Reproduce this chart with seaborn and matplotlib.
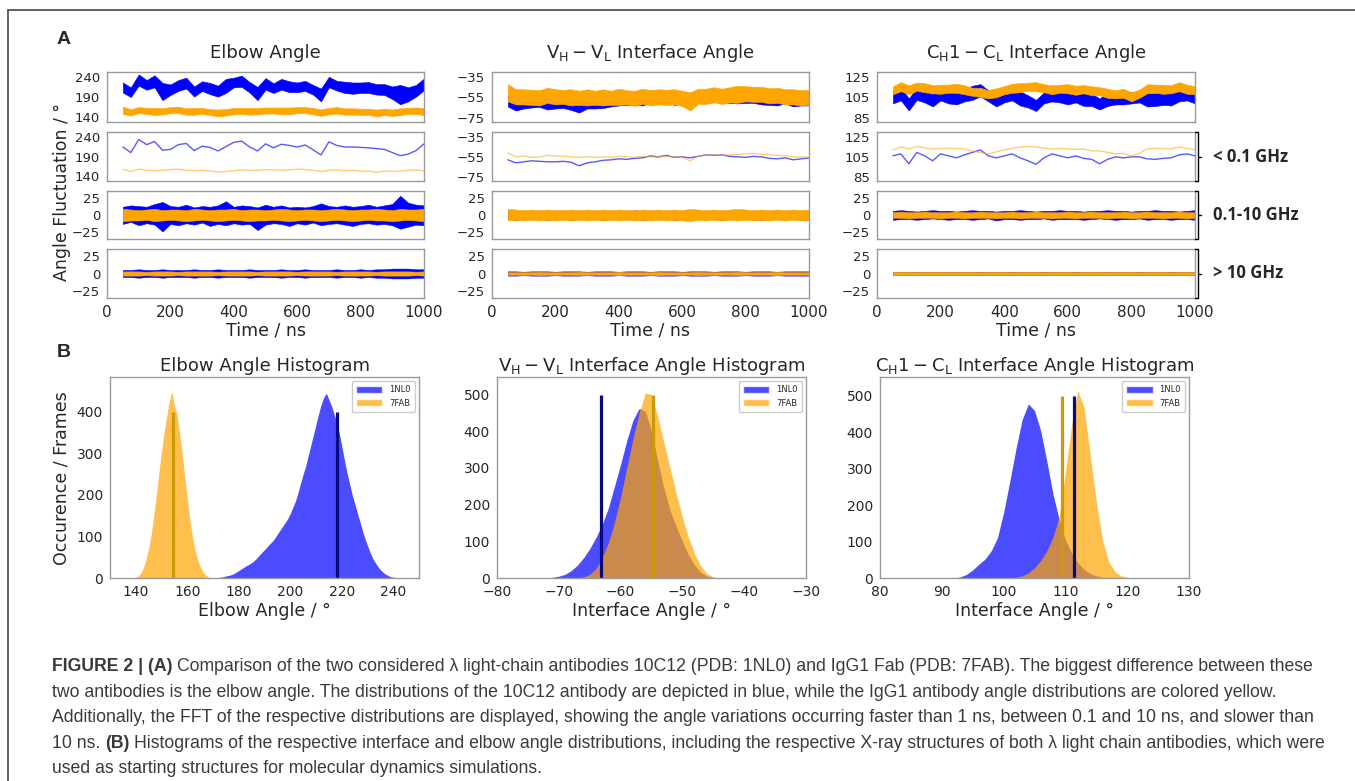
"""
Angle fluctuations (FFT split) and angle histograms for 1NL0 vs 7FAB
"""

import numpy as np
import seaborn as sns
import matplotlib

matplotlib.use("Agg")
import matplotlib.pyplot as plt
from matplotlib.lines import Line2D
from matplotlib.patches import Patch

W, H = 1355, 781

# ---- time series (values read every 25 ns from 50 to 1000 ns) ----
time_ns = list(range(50, 1001, 25))

# slow part (< 0.1 GHz)
elbow_blue_slow = [214, 200, 233, 220, 228, 206, 208, 220, 223, 205, 216, 213, 204,
                   215, 226, 229, 214, 204, 222, 212, 221, 218, 214, 219, 207, 194,
                   227, 218, 214, 214, 213, 212, 210, 208, 200, 192, 196, 205, 222]
elbow_orange_slow = [157, 152, 158, 155, 154, 155, 157, 158, 155, 154, 155, 153, 151,
                     152, 154, 156, 155, 155, 157, 156, 155, 156, 158, 157, 155, 152,
                     155, 156, 154, 155, 153, 153, 150, 153, 152, 153, 155, 156, 154]
vh_blue_slow = [-58, -61, -60, -59, -59.5, -60, -60, -59.5, -60.5, -64, -61, -60, -58.5,
                -58, -57, -57.5, -56.5, -56, -54, -55, -53.5, -55.5, -55, -56, -54.5, -53,
                -53.5, -53, -54.5, -55, -55.5, -54.5, -55, -56.5, -57, -56, -58, -57, -56]
vh_orange_slow = [-51, -55, -54, -55.5, -55, -53.5, -54, -54.5, -55, -55.5, -55, -55.5, -55,
                  -55.5, -54.5, -55, -55.5, -54.5, -55, -55, -54.5, -55, -55.5, -59, -54.5,
                  -53.5, -53, -53.5, -53, -52.5, -52, -51.5, -52.5, -53, -53.5, -54, -55, -55,
                  -55.5]
ch_blue_slow = [106, 108, 98, 109.5, 106, 101, 108, 106, 104, 107, 109.5, 112, 106, 104,
                106, 108, 104, 101, 97.5, 104, 108, 106, 104, 106, 103.5, 102.5, 98, 102.5,
                105, 104, 105, 105, 103, 102.5, 103.5, 104, 107, 108, 106]
ch_orange_slow = [112, 115, 113, 115.5, 114, 113, 113.5, 113.5, 113.5, 113, 110.5, 109.5,
                  108, 110, 112, 113.5, 115, 115.5, 115, 114, 113, 113.5, 113, 112.5, 113,
                  111, 111, 109.5, 108, 108.5, 106, 108.5, 113, 113.5, 113.5, 113, 115,
                  113.5, 112]

# 0.1-10 GHz band (upper / lower envelope)
elbow_blue_mid_hi = [12, 14, 13, 12, 16, 19, 13, 12, 15, 11, 13, 12, 14, 20, 12, 14, 13,
                     11, 15, 12, 14, 11, 12, 11, 13, 17, 13, 12, 14, 12, 13, 15, 12, 14,
                     16, 28, 18, 15, 14]
elbow_blue_mid_lo = [-13, -10, -15, -12, -14, -24, -13, -15, -12, -14, -11, -16, -13, -15,
                     -12, -14, -13, -22, -14, -12, -13, -16, -12, -14, -11, -15, -13, -12,
                     -14, -16, -13, -12, -14, -13, -15, -20, -17, -14, -15]
elbow_orange_mid_hi = [9, 8, 7, 8, 9, 7, 8, 8, 7, 9, 8, 7, 8, 8, 9, 7, 8, 8, 7, 8, 9, 8,
                       7, 8, 8, 7, 8, 9, 8, 7, 8, 8, 9, 8, 7, 9, 8, 8, 9]
elbow_orange_mid_lo = [-9, -8, -8, -7, -9, -8, -7, -8, -9, -8, -7, -8, -9, -8, -7, -8, -9,
                       -8, -8, -7, -8, -9, -8, -7, -8, -9, -8, -7, -8, -9, -8, -7, -8, -8,
                       -9, -8, -7, -8, -9]
vh_blue_mid_hi = [5, 6, 5, 5, 6, 5, 5, 6, 5, 5, 6, 5, 5, 5, 6, 5, 7, 5, 6, 5, 5, 6, 5, 5,
                  6, 5, 5, 6, 5, 5, 5, 6, 5, 5, 6, 5, 5, 6, 5]
vh_blue_mid_lo = [-6, -7, -6, -6, -5, -7, -6, -6, -7, -6, -5, -6, -7, -6, -6, -5, -6, -7,
                  -6, -6, -5, -7, -6, -6, -6, -5, -6, -7, -6, -6, -5, -6, -7, -6, -6, -5,
                  -6, -6, -7]
vh_orange_mid_hi = [9, 8, 7, 8, 7, 8, 7, 7, 8, 7, 8, 7, 8, 7, 8, 7, 7, 8, 7, 8, 7, 8, 7,
                    9, 8, 7, 8, 7, 8, 9, 8, 7, 8, 7, 8, 7, 8, 7, 8]
vh_orange_mid_lo = [-8, -7, -8, -7, -8, -7, -8, -7, -8, -7, -8, -7, -8, -7, -8, -7, -8,
                    -7, -8, -7, -8, -7, -8, -9, -7, -8, -7, -8, -7, -8, -7, -8, -7, -8,
                    -7, -8, -7, -8, -7]
ch_blue_mid_hi = [6, 7, 6, 5, 6, 7, 6, 6, 5, 6, 7, 6, 6, 5, 6, 6, 7, 6, 5, 6, 6, 7, 6, 6,
                  5, 6, 6, 7, 6, 6, 5, 6, 6, 7, 6, 6, 5, 6, 7]
ch_blue_mid_lo = [-7, -6, -6, -7, -6, -5, -6, -7, -6, -6, -7, -6, -5, -8, -6, -6, -7, -6,
                  -6, -5, -7, -6, -6, -6, -7, -6, -5, -6, -7, -6, -6, -5, -7, -6, -6, -7,
                  -6, -6, -7]
ch_orange_mid_hi = [4, 5, 4, 4, 5, 4, 4, 4, 5, 4, 4, 5, 4, 4, 4, 5, 4, 4, 5, 4, 4, 4, 5,
                    4, 4, 5, 4, 4, 4, 5, 4, 4, 5, 4, 4, 4, 5, 4, 4]
ch_orange_mid_lo = [-4, -4, -5, -4, -4, -4, -5, -4, -4, -5, -4, -4, -4, -5, -4, -4, -5,
                    -4, -4, -4, -5, -4, -4, -5, -4, -4, -4, -5, -4, -4, -5, -4, -4, -4, -5,
                    -4, -4, -5, -4]

# > 10 GHz band (half width)
elbow_blue_fast = [5, 5, 6, 5, 5, 6, 5, 5, 5, 6, 5, 5, 6, 5, 5, 5, 6, 5, 5, 5, 6, 5, 5,
                   6, 5, 5, 5, 6, 5, 5, 6, 5, 6, 6, 7, 7, 7, 6, 6]
elbow_orange_fast = [3, 3, 3, 2.5, 3, 3, 3, 2.5, 3, 3, 3, 3, 2.5, 3, 3, 3, 3, 2.5, 3, 3,
                     3, 3, 2.5, 3, 3, 3, 3, 2.5, 3, 3, 3, 3, 2.5, 3, 3, 3, 3, 2.5, 3]
vh_blue_fast = [3, 3, 2.5, 3, 3, 3, 2.5, 3, 3, 3, 2.5, 3, 3, 3, 2.5, 3, 3, 3, 2.5, 3, 3,
                3, 2.5, 3, 3, 3, 2.5, 3, 3, 3, 2.5, 3, 3, 3, 2.5, 3, 3, 3, 3]
vh_orange_fast = [2, 2, 2, 2, 2.5, 2, 2, 2, 2, 2.5, 2, 2, 2, 2, 2.5, 2, 2, 2, 2, 2.5, 2,
                  2, 2, 2, 2.5, 2, 2, 2, 2, 2.5, 2, 2, 2, 2, 2.5, 2, 2, 2, 2]
ch_blue_fast = [2, 2, 2, 2.5, 2, 2, 2, 2.5, 2, 2, 2, 2.5, 2, 2, 2, 2.5, 2, 2, 2, 2.5, 2,
                2, 2, 2.5, 2, 2, 2, 2.5, 2, 2, 2, 2.5, 2, 2, 2, 2.5, 2, 2, 2]
ch_orange_fast = [1.5, 1.5, 1.5, 1.5, 1.5, 1.5, 1.5, 1.5, 1.5, 1.5, 1.5, 1.5, 1.5, 1.5,
                  1.5, 1.5, 1.5, 1.5, 1.5, 1.5, 1.5, 1.5, 1.5, 1.5, 1.5, 1.5, 1.5, 1.5,
                  1.5, 1.5, 1.5, 1.5, 1.5, 1.5, 1.5, 1.5, 1.5, 1.5, 1.5]

# ---- histograms (frames per 1 degree bin) ----
elbow_blue_deg = list(range(172, 243))
elbow_blue_count = [1, 2, 3, 5, 6, 8, 10, 14, 18, 22, 26, 30, 33, 37, 42, 48, 55, 62, 68,
                    75, 82, 88, 96, 106, 115, 124, 133, 143, 155, 170, 185, 205, 228,
                    250, 270, 295, 320, 345, 370, 395, 418, 435, 445, 430, 415, 395, 375,
                    350, 318, 285, 255, 228, 202, 180, 158, 137, 115, 95, 78, 62, 48, 37,
                    28, 20, 14, 9, 6, 3, 2, 1, 0]
elbow_orange_deg = list(range(139, 170))
elbow_orange_count = [0, 2, 5, 12, 25, 45, 72, 105, 150, 200, 255, 305, 350, 390, 425,
                      450, 415, 395, 350, 300, 245, 190, 140, 100, 68, 45, 28, 16, 8, 3, 0]
vh_blue_deg = list(range(-72, -44))
vh_blue_count = [0, 2, 5, 10, 20, 35, 55, 80, 110, 145, 190, 250, 310, 375, 430, 462,
                 455, 400, 320, 245, 185, 140, 100, 62, 35, 15, 5, 1]
vh_orange_deg = list(range(-67, -43))
vh_orange_count = [0, 3, 10, 25, 55, 95, 150, 220, 300, 380, 450, 505, 500, 440, 370,
                   300, 230, 165, 110, 65, 32, 12, 3, 0]
ch_blue_deg = list(range(92, 118))
ch_blue_count = [0, 3, 10, 22, 38, 52, 75, 110, 180, 265, 355, 435, 478, 460, 405, 320,
                 230, 160, 105, 68, 42, 24, 12, 6, 2, 0]
ch_orange_deg = list(range(101, 122))
ch_orange_count = [0, 2, 6, 14, 28, 48, 75, 112, 170, 290, 420, 515, 470, 340, 210, 105,
                   45, 18, 6, 2, 0]

# X-ray structure angles (1NL0, 7FAB)
elbow_xray = [218, 154.5]
vh_xray = [-63.1, -54.7]
ch_xray = [111.4, 109.5]

freq_labels = ["< 0.1 GHz", "0.1-10 GHz", "> 10 GHz"]

caption_lines = [
    [("FIGURE 2 | (A)", "bold"),
     ("Comparison of the two considered λ light-chain antibodies 10C12 (PDB: 1NL0) and "
      "IgG1 Fab (PDB: 7FAB). The biggest difference between these", "normal")],
    [("two antibodies is the elbow angle. The distributions of the 10C12 antibody are "
      "depicted in blue, while the IgG1 antibody angle distributions are colored yellow.",
      "normal")],
    [("Additionally, the FFT of the respective distributions are displayed, showing the "
      "angle variations occurring faster than 1 ns, between 0.1 and 10 ns, and slower than",
      "normal")],
    [("10 ns.", "normal"), ("(B)", "bold"),
     ("Histograms of the respective interface and elbow angle distributions, including "
      "the respective X-ray structures of both λ light chain antibodies, which were",
      "normal")],
    [("used as starting structures for molecular dynamics simulations.", "normal")],
]

BLUE = "blue"
ORANGE = "orange"
SPINE = "#9a9a9a"


def box(x0, y0, x1, y1):
    return [x0 / W, 1 - y1 / H, (x1 - x0) / W, (y1 - y0) / H]


def style_ax(ax, size):
    for s in ax.spines.values():
        s.set_color(SPINE)
        s.set_linewidth(1.0)
    ax.tick_params(length=3, width=0.8, color="#444444", labelsize=size, pad=2)


def draw_traces(fig, x0, x1, title, ylim, yticks, blue, orange):
    rows = [(72, 122), (132, 181), (191, 239), (249, 298)]
    t = np.array(time_ns)
    axes = []
    for i, (y0, y1) in enumerate(rows):
        ax = fig.add_axes(box(x0, y0, x1, y1))
        for d, c in [(blue, BLUE), (orange, ORANGE)]:
            slow = np.array(d["slow"])
            hi = np.array(d["hi"])
            lo = np.array(d["lo"])
            fast = np.array(d["fast"])
            if i == 0:
                ax.fill_between(t, slow + lo, slow + hi, color=c, lw=0.4)
            elif i == 1:
                sns.lineplot(x=t, y=slow, color=c, lw=1.0,
                             alpha=0.65 if c == BLUE else 0.55, ax=ax)
            elif i == 2:
                ax.fill_between(t, lo, hi, color=c, lw=0.4)
            else:
                ax.fill_between(t, -fast, fast, color=c, lw=0.4)
        ax.set_xlim(0, 1000)
        ax.set_xticks(range(0, 1001, 200))
        if i < 2:
            ax.set_ylim(*ylim)
            ax.set_yticks(yticks)
        else:
            ax.set_ylim(-35, 35)
            ax.set_yticks([25, 0, -25])
        style_ax(ax, 9.5)
        if i < 3:
            ax.tick_params(labelbottom=False)
        else:
            ax.tick_params(axis="x", labelsize=11)
            ax.set_xlabel("Time / ns", fontsize=12.5, labelpad=1)
        axes.append(ax)
    axes[0].set_title(title, fontsize=13, pad=10)
    return axes


def draw_hist(fig, x0, x1, blue_x, blue_y, orange_x, orange_y, xray, vheight,
              xlim, xticks, ylim, yticks, xlabel, title):
    ax = fig.add_axes(box(x0, 377, x1, 578))
    for xs, ys, c in [(blue_x, blue_y, BLUE), (orange_x, orange_y, ORANGE)]:
        edges = [v - 0.5 for v in xs] + [xs[-1] + 0.5]
        sns.histplot(x=xs, weights=ys, bins=edges, element="poly", fill=True,
                     color=c, alpha=0.7, linewidth=0, ax=ax)
    ax.vlines(xray[0], 0, vheight, color="#0a0a80", lw=2.3)
    ax.vlines(xray[1], 0, vheight, color="#cc9a06", lw=2.3)
    ax.set_xlim(*xlim)
    ax.set_xticks(xticks)
    ax.set_ylim(*ylim)
    ax.set_yticks(yticks)
    ax.set_ylabel("")
    ax.set_xlabel(xlabel, fontsize=12.5, labelpad=2)
    ax.set_title(title, fontsize=13, pad=4)
    style_ax(ax, 10)
    handles = [Patch(facecolor=BLUE, alpha=0.7, label="1NL0"),
               Patch(facecolor=ORANGE, alpha=0.7, label="7FAB")]
    ax.legend(handles=handles, loc="upper right", fontsize=6, handlelength=3.2,
              handleheight=0.9, borderpad=0.5, labelspacing=0.5, framealpha=1,
              edgecolor="#cccccc")
    return ax


def draw_caption(fig):
    r = fig.canvas.get_renderer()
    kw = dict(family="Liberation Sans", size=12.7, color="#3a3a3a", va="baseline")
    probe = fig.text(0, 0, "a a", **kw)
    probe2 = fig.text(0, 0, "aa", **kw)
    space = probe.get_window_extent(r).width - probe2.get_window_extent(r).width
    probe.remove()
    probe2.remove()
    baselines = [671, 697, 722, 748, 773]
    for segs, yb in zip(caption_lines, baselines):
        x = 52
        for text, weight in segs:
            t = fig.text(x / W, 1 - yb / H, text, weight=weight, **kw)
            x = t.get_window_extent(r).x1 + space


def main():
    sns.set_style("white")
    plt.rcParams["font.family"] = ["DejaVu Sans"]
    plt.rcParams["mathtext.fontset"] = "dejavusans"

    fig = plt.figure(figsize=(W / 100, H / 100), dpi=100)

    draw_traces(fig, 107, 424, "Elbow Angle", (128, 252), [240, 190, 140],
                dict(slow=elbow_blue_slow, hi=elbow_blue_mid_hi, lo=elbow_blue_mid_lo,
                     fast=elbow_blue_fast),
                dict(slow=elbow_orange_slow, hi=elbow_orange_mid_hi,
                     lo=elbow_orange_mid_lo, fast=elbow_orange_fast))
    draw_traces(fig, 492, 809, r"$\mathrm{V_H - V_L}$ Interface Angle", (-79.3, -30),
                [-35, -55, -75],
                dict(slow=vh_blue_slow, hi=vh_blue_mid_hi, lo=vh_blue_mid_lo,
                     fast=vh_blue_fast),
                dict(slow=vh_orange_slow, hi=vh_orange_mid_hi, lo=vh_orange_mid_lo,
                     fast=vh_orange_fast))
    draw_traces(fig, 877, 1195, r"$\mathrm{C_H1 - C_L}$ Interface Angle", (80.7, 130),
                [125, 105, 85],
                dict(slow=ch_blue_slow, hi=ch_blue_mid_hi, lo=ch_blue_mid_lo,
                     fast=ch_blue_fast),
                dict(slow=ch_orange_slow, hi=ch_orange_mid_hi, lo=ch_orange_mid_lo,
                     fast=ch_orange_fast))

    draw_hist(fig, 110, 419, elbow_blue_deg, elbow_blue_count, elbow_orange_deg,
              elbow_orange_count, elbow_xray, 400, (130, 250), range(140, 241, 20),
              (0, 484), range(0, 401, 100), "Elbow Angle / °", "Elbow Angle Histogram")
    draw_hist(fig, 497, 806, vh_blue_deg, vh_blue_count, vh_orange_deg, vh_orange_count,
              vh_xray, 500, (-80, -30), range(-80, -29, 10), (0, 548),
              range(0, 501, 100), "Interface Angle / °",
              r"$\mathrm{V_H - V_L}$ Interface Angle Histogram")
    draw_hist(fig, 880, 1189, ch_blue_deg, ch_blue_count, ch_orange_deg, ch_orange_count,
              ch_xray, 500, (80, 130), range(80, 131, 10), (0, 552),
              range(0, 501, 100), "Interface Angle / °",
              r"$\mathrm{C_H1 - C_L}$ Interface Angle Histogram")

    # shared y labels
    fig.text(62 / W, 1 - 192 / H, "Angle Fluctuation / °", rotation=90, fontsize=12.5,
             ha="center", va="center")
    fig.text(62 / W, 1 - 478 / H, "Occurence / Frames", rotation=90, fontsize=12.5,
             ha="center", va="center")

    # frequency brackets on the right
    rows = [(132, 181), (191, 239), (249, 298)]
    bx = 1198
    for (y0, y1), lab in zip(rows, freq_labels):
        fig.add_artist(Line2D([(bx - 3) / W, bx / W, bx / W, (bx - 3) / W],
                              [1 - y0 / H, 1 - y0 / H, 1 - y1 / H, 1 - y1 / H],
                              color="black", lw=1.0))
        ym = (y0 + y1) / 2
        fig.add_artist(Line2D([bx / W, (bx + 3) / W], [1 - ym / H, 1 - ym / H],
                              color="black", lw=1.0))
        fig.text(1213 / W, 1 - ym / H, lab, family="Open Sans", weight="bold",
                 fontsize=12, ha="left", va="center")

    # panel letters
    fig.text(57 / W, 1 - 40 / H, "A", family="Liberation Sans", weight="bold",
             fontsize=14, va="center")
    fig.text(57 / W, 1 - 352 / H, "B", family="Liberation Sans", weight="bold",
             fontsize=14, va="center")

    # outer frame (left and top edges)
    fig.add_artist(Line2D([8 / W, 8 / W], [0, 1 - 10 / H], color="#555555", lw=1.3))
    fig.add_artist(Line2D([8 / W, 1], [1 - 10 / H, 1 - 10 / H], color="#555555", lw=1.3))

    draw_caption(fig)
    fig.savefig("out.png", dpi=100)


if __name__ == "__main__":
    main()
